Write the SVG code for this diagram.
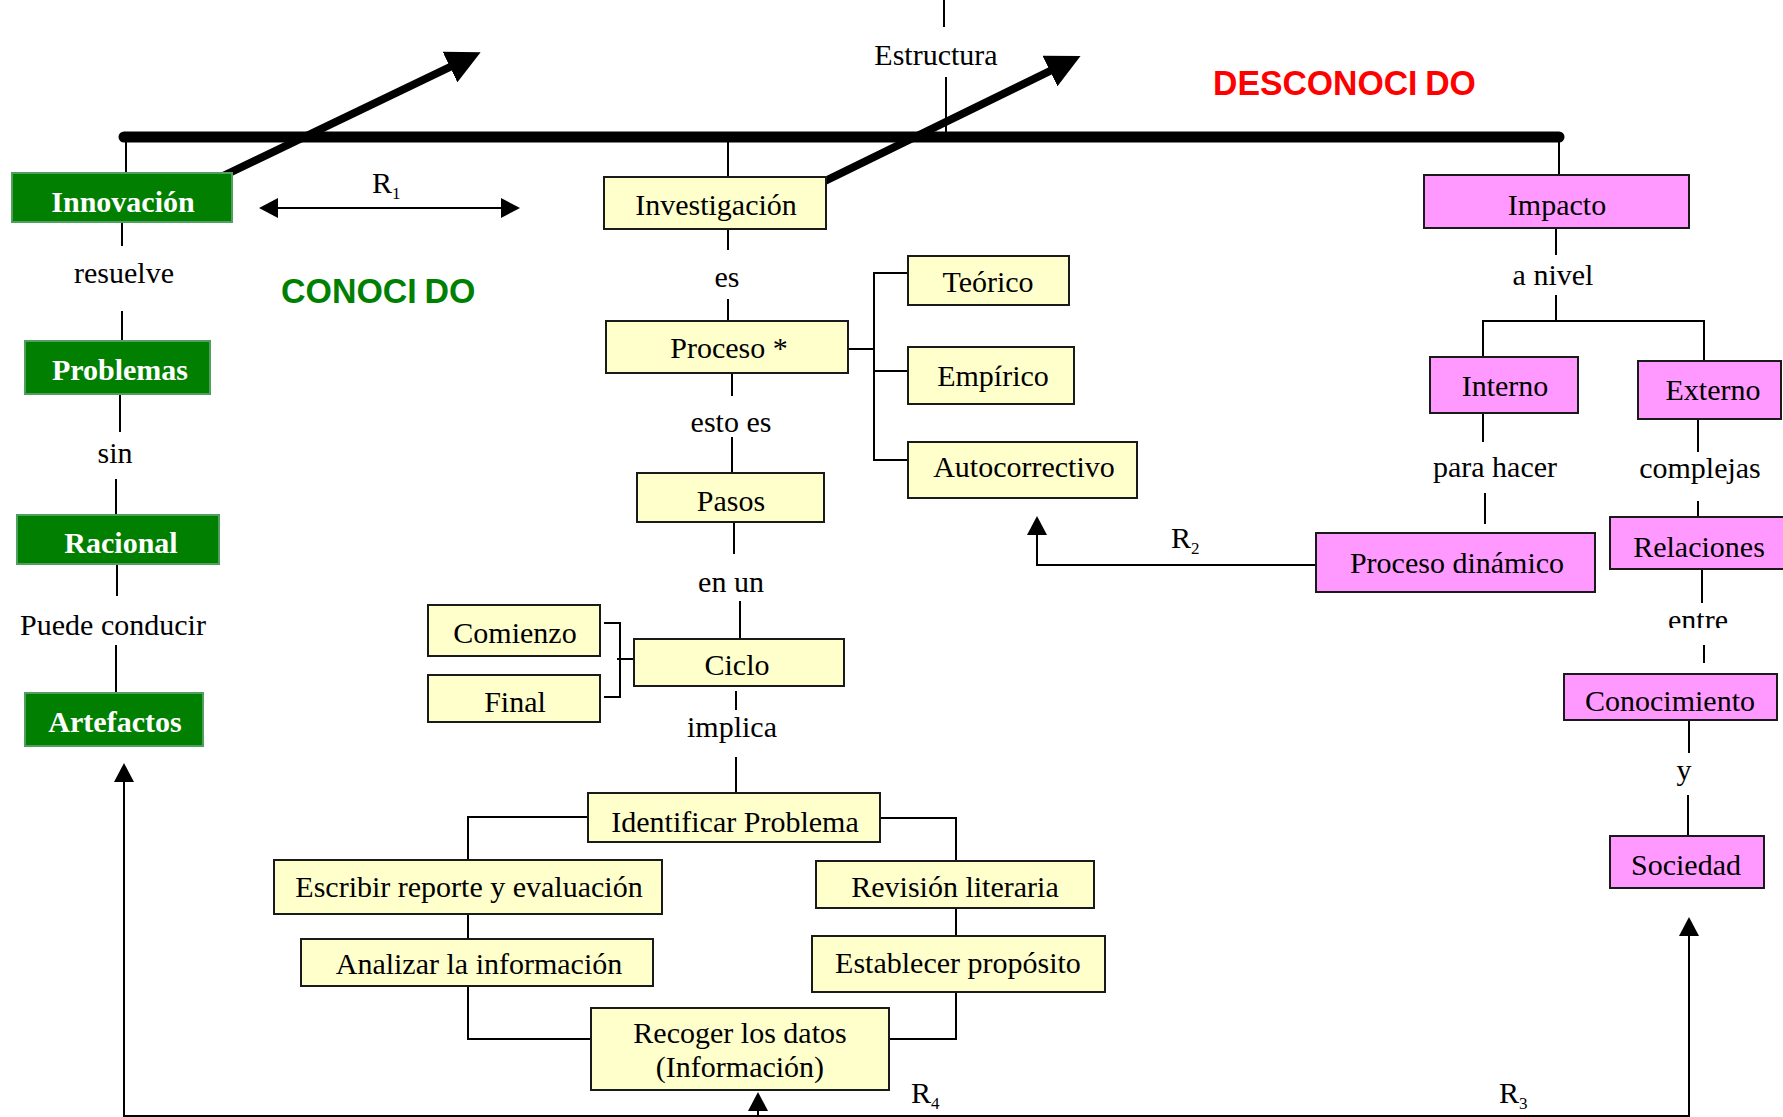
<svg xmlns="http://www.w3.org/2000/svg" width="1783" height="1117" viewBox="0 0 1783 1117">
<style>
  .g rect{fill:#007f00;stroke:#4f9f5f;stroke-width:2}
  .g text{fill:#fff;font-weight:bold}
  .y rect{fill:#ffffcc;stroke:#1a1a1a;stroke-width:2}
  .p rect{fill:#ff99ff;stroke:#1a1a1a;stroke-width:2}
  text{font-family:"Liberation Serif","Times New Roman",serif;font-size:30px;fill:#000;text-anchor:middle}
  .r{text-anchor:start}
  .sub{font-size:17px}
  .title{font-family:"Liberation Sans",Arial,sans-serif;font-weight:bold;font-size:35px;text-anchor:start}
  .thin{fill:none;stroke:#000;stroke-width:2}
  .thick{fill:none;stroke:#000;stroke-linecap:round}
</style>
<defs>
  <marker id="bigHead" markerUnits="userSpaceOnUse" viewBox="0 -17 34 34" refX="0" refY="0" markerWidth="34" markerHeight="34" orient="auto">
    <path d="M0,-17 L34,0 L0,17 z" fill="#000"/>
  </marker>
  <marker id="head" markerUnits="userSpaceOnUse" viewBox="0 -10 19 20" refX="0" refY="0" markerWidth="19" markerHeight="20" orient="auto-start-reverse">
    <path d="M0,-10 L19,0 L0,10 z" fill="#000"/>
  </marker>
  <clipPath id="entreClip"><rect x="1640" y="590" width="120" height="38"/></clipPath>
</defs>

<g id="connectors">
  <path class="thick" d="M124,137 H1559" stroke-width="11"/>
  <path class="thick" d="M223,176 L450,67" stroke-width="8" marker-end="url(#bigHead)"/>
  <path class="thick" d="M823,182 L1050,71" stroke-width="8" marker-end="url(#bigHead)"/>
  <path class="thin" d="M126,137 V173"/>
  <path class="thin" d="M122,222 V246"/>
  <path class="thin" d="M122,311 V341"/>
  <path class="thin" d="M120,394 V432"/>
  <path class="thin" d="M116,479 V515"/>
  <path class="thin" d="M117,564 V596"/>
  <path class="thin" d="M116,645 V693"/>
  <path class="thin" d="M278,208 H501" marker-start="url(#head)" marker-end="url(#head)"/>
  <path class="thin" d="M944,0 V27"/>
  <path class="thin" d="M946,77 V137"/>
  <path class="thin" d="M728,137 V177"/>
  <path class="thin" d="M728,229 V250"/>
  <path class="thin" d="M728,299 V321"/>
  <path class="thin" d="M732,373 V396"/>
  <path class="thin" d="M732,437 V473"/>
  <path class="thin" d="M734,522 V554"/>
  <path class="thin" d="M740,601 V639"/>
  <path class="thin" d="M736,691 V710"/>
  <path class="thin" d="M736,757 V793"/>
  <path class="thin" d="M848,349 H874"/>
  <path class="thin" d="M908,273 H874 V460 H908"/>
  <path class="thin" d="M874,371 H908"/>
  <path class="thin" d="M604,623 H620 V697 H604"/>
  <path class="thin" d="M617,659 H634"/>
  <path class="thin" d="M588,817 H468 V860"/>
  <path class="thin" d="M468,914 V939"/>
  <path class="thin" d="M468,986 V1039 H591"/>
  <path class="thin" d="M880,818 H956 V861"/>
  <path class="thin" d="M956,908 V936"/>
  <path class="thin" d="M956,992 V1039 H889"/>
  <path class="thin" d="M1559,137 V175"/>
  <path class="thin" d="M1556,228 V255"/>
  <path class="thin" d="M1556,295 V321"/>
  <path class="thin" d="M1483,357 V321 H1704 V361"/>
  <path class="thin" d="M1483,413 V442"/>
  <path class="thin" d="M1485,493 V524"/>
  <path class="thin" d="M1698,419 V452"/>
  <path class="thin" d="M1698,501 V517"/>
  <path class="thin" d="M1702,569 V603"/>
  <path class="thin" d="M1704,645 V663"/>
  <path class="thin" d="M1689,720 V753"/>
  <path class="thin" d="M1688,795 V836"/>
  <path class="thin" d="M1316,565 H1037 V535" marker-end="url(#head)"/>
  <path class="thin" d="M124,782 V1116 H1689 V936" marker-start="url(#head)" marker-end="url(#head)"/>
  <path class="thin" d="M758,1116 V1111" marker-end="url(#head)"/>
</g>

<g id="labels">
  <text x="936" y="65">Estructura</text>
  <text x="124" y="283">resuelve</text>
  <text x="115" y="463">sin</text>
  <text x="113" y="635">Puede conducir</text>
  <text x="727" y="287">es</text>
  <text x="731" y="432">esto es</text>
  <text x="731" y="592">en un</text>
  <text x="732" y="737">implica</text>
  <text x="1553" y="285">a nivel</text>
  <text x="1495" y="477">para hacer</text>
  <text x="1700" y="478">complejas</text>
  <text x="1698" y="630" clip-path="url(#entreClip)">entre</text>
  <text x="1684" y="780">y</text>
  <text class="r" x="372" y="193">R<tspan class="sub" dy="6">1</tspan></text>
  <text class="r" x="1171" y="548">R<tspan class="sub" dy="6">2</tspan></text>
  <text class="r" x="1499" y="1103">R<tspan class="sub" dy="6">3</tspan></text>
  <text class="r" x="911" y="1103">R<tspan class="sub" dy="6">4</tspan></text>
  <text class="title" transform="translate(281,303) scale(0.97,1)" style="fill:#008000">CONOCI<tspan dx="8">DO</tspan></text>
  <text class="title" transform="translate(1213,95) scale(0.965,1)" style="fill:#ff0000">DESCONOCI<tspan dx="8">DO</tspan></text>
</g>

<g id="n-innovacion" class="g"><rect x="12" y="173" width="220" height="49"/><text x="123" y="212">Innovación</text></g>
<g id="n-problemas" class="g"><rect x="25" y="341" width="185" height="53"/><text x="120" y="380">Problemas</text></g>
<g id="n-racional" class="g"><rect x="17" y="515" width="202" height="49"/><text x="121" y="553">Racional</text></g>
<g id="n-artefactos" class="g"><rect x="25" y="693" width="178" height="53"/><text x="115" y="732">Artefactos</text></g>

<g id="n-investigacion" class="y"><rect x="604" y="177" width="222" height="52"/><text x="716" y="215">Investigación</text></g>
<g id="n-proceso" class="y"><rect x="606" y="321" width="242" height="52"/><text x="729" y="358">Proceso *</text></g>
<g id="n-teorico" class="y"><rect x="908" y="256" width="161" height="49"/><text x="988" y="292">Teórico</text></g>
<g id="n-empirico" class="y"><rect x="908" y="347" width="166" height="57"/><text x="993" y="386">Empírico</text></g>
<g id="n-autocorrectivo" class="y"><rect x="908" y="442" width="229" height="56"/><text x="1024" y="477">Autocorrectivo</text></g>
<g id="n-pasos" class="y"><rect x="637" y="473" width="187" height="49"/><text x="731" y="511">Pasos</text></g>
<g id="n-comienzo" class="y"><rect x="428" y="605" width="172" height="51"/><text x="515" y="643">Comienzo</text></g>
<g id="n-final" class="y"><rect x="428" y="675" width="172" height="47"/><text x="515" y="712">Final</text></g>
<g id="n-ciclo" class="y"><rect x="634" y="639" width="210" height="47"/><text x="737" y="675">Ciclo</text></g>
<g id="n-identificar" class="y"><rect x="588" y="793" width="292" height="49"/><text x="735" y="832">Identificar Problema</text></g>
<g id="n-escribir" class="y"><rect x="274" y="860" width="388" height="54"/><text x="469" y="897">Escribir reporte y evaluación</text></g>
<g id="n-revision" class="y"><rect x="816" y="861" width="278" height="47"/><text x="955" y="897">Revisión literaria</text></g>
<g id="n-analizar" class="y"><rect x="301" y="939" width="352" height="47"/><text x="479" y="974">Analizar la información</text></g>
<g id="n-establecer" class="y"><rect x="812" y="936" width="293" height="56"/><text x="958" y="973">Establecer propósito</text></g>
<g id="n-recoger" class="y"><rect x="591" y="1008" width="298" height="82"/><text x="740" y="1043">Recoger los datos</text><text x="740" y="1077">(Información)</text></g>

<g id="n-impacto" class="p"><rect x="1424" y="175" width="265" height="53"/><text x="1557" y="215">Impacto</text></g>
<g id="n-interno" class="p"><rect x="1430" y="357" width="148" height="56"/><text x="1505" y="396">Interno</text></g>
<g id="n-externo" class="p"><rect x="1638" y="361" width="143" height="58"/><text x="1713" y="400">Externo</text></g>
<g id="n-proceso-dinamico" class="p"><rect x="1316" y="533" width="279" height="59"/><text x="1457" y="573">Proceso dinámico</text></g>
<g id="n-relaciones" class="p"><rect x="1610" y="517" width="180" height="52"/><text x="1699" y="557">Relaciones</text></g>
<g id="n-conocimiento" class="p"><rect x="1564" y="674" width="213" height="46"/><text x="1670" y="711">Conocimiento</text></g>
<g id="n-sociedad" class="p"><rect x="1610" y="836" width="154" height="52"/><text x="1686" y="875">Sociedad</text></g>
</svg>
